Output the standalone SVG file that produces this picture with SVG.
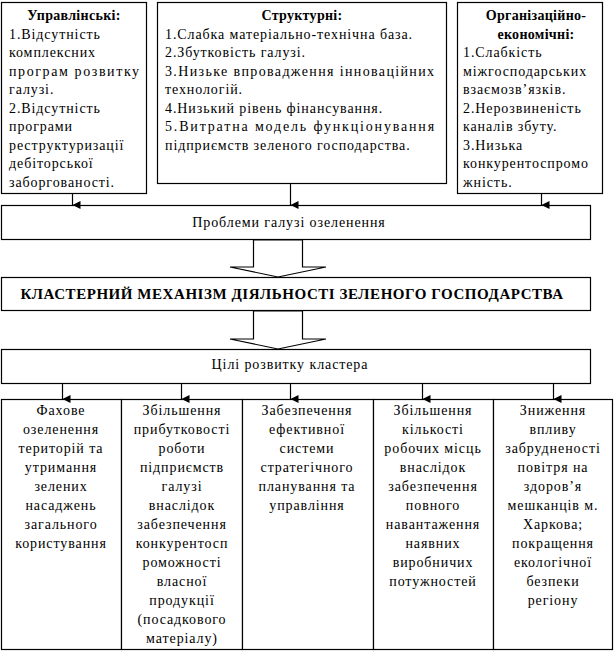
<svg xmlns="http://www.w3.org/2000/svg" width="614" height="652" viewBox="0 0 614 652" font-family="'Liberation Serif',Tinos,'Noto Serif',FreeSerif,'DejaVu Serif','Times New Roman',Times,serif" font-size="14">
<defs>
<marker id="ah" viewBox="0 0 8 8" refX="4" refY="8" markerWidth="8" markerHeight="8" markerUnits="userSpaceOnUse" orient="auto-start-reverse">
<path d="M0,0 L8,0 L4,8 z" fill="#000"/>
</marker>
<style>
text{fill:#000;letter-spacing:0.9px}
.b{font-weight:bold;letter-spacing:0.3px}
.c{text-anchor:middle}
.box{fill:#fff;stroke:#000;stroke-width:1.2}
.ln{stroke:#000;stroke-width:1.2;fill:none}
.k{font-size:15px;font-weight:bold;letter-spacing:0.55px}
</style>
</defs>
<rect width="614" height="652" fill="#fff"/>

<g id="upravlinski">
<rect class="box" x="1.5" y="2.5" width="145" height="191"/>
<text class="b c" x="74" y="20">Управлінські:</text>
<text x="9" y="38.5">1.Відсутність</text>
<text x="9" y="57">комплексних</text>
<text x="9" y="75.5" textLength="131" lengthAdjust="spacing">програм розвитку</text>
<text x="9" y="94">галузі.</text>
<text x="9" y="112.5">2.Відсутність</text>
<text x="9" y="131">програми</text>
<text x="9" y="149.5">реструктуризації</text>
<text x="9" y="168">дебіторської</text>
<text x="9" y="186.5">заборгованості.</text>
</g>

<g id="strukturni">
<rect class="box" x="157.5" y="2.5" width="289" height="181"/>
<text class="b c" x="302" y="20">Структурні:</text>
<text x="165" y="38.5">1.Слабка матеріально-технічна база.</text>
<text x="165" y="57">2.Збутковість галузі.</text>
<text x="165" y="75.5" textLength="270" lengthAdjust="spacing">3.Низьке впровадження інноваційних</text>
<text x="165" y="94">технологій.</text>
<text x="165" y="112.5">4.Низький рівень фінансування.</text>
<text x="165" y="131" textLength="270" lengthAdjust="spacing">5.Витратна модель функціонування</text>
<text x="165" y="149.5">підприємств зеленого господарства.</text>
</g>

<g id="orgekon">
<rect class="box" x="457.5" y="2.5" width="145" height="191"/>
<text class="b c" x="536" y="20">Організаційно-</text>
<text class="b c" x="536" y="38.5">економічні:</text>
<text x="463" y="57">1.Слабкість</text>
<text x="463" y="75.5">міжгосподарських</text>
<text x="463" y="94">взаємозв’язків.</text>
<text x="463" y="112.5">2.Нерозвиненість</text>
<text x="463" y="131">каналів збуту.</text>
<text x="463" y="149.5">3.Низька</text>
<text x="463" y="168">конкурентоспромо</text>
<text x="463" y="186.5">жність.</text>
</g>

<g id="problemy">
<rect class="box" x="1.5" y="205.5" width="589" height="34"/>
<text class="c" x="289" y="227">Проблеми галузі озеленення</text>
</g>

<g id="mekhanizm">
<rect class="box" x="1.5" y="277.5" width="589" height="33"/>
<text class="k c" x="292" y="299">КЛАСТЕРНИЙ МЕХАНІЗМ ДІЯЛЬНОСТІ ЗЕЛЕНОГО ГОСПОДАРСТВА</text>
</g>

<g id="tsili">
<rect class="box" x="1.5" y="349.5" width="589" height="34"/>
<text class="c" x="290" y="369">Цілі розвитку кластера</text>
</g>

<g id="goal1">
<rect class="box" x="1.5" y="399.5" width="120" height="250"/>
<text class="c" x="61" y="415">Фахове</text>
<text class="c" x="61" y="434">озеленення</text>
<text class="c" x="61" y="453">територій та</text>
<text class="c" x="61" y="472">утримання</text>
<text class="c" x="61" y="491">зелених</text>
<text class="c" x="61" y="510">насаджень</text>
<text class="c" x="61" y="529">загального</text>
<text class="c" x="61" y="548">користування</text>
</g>

<g id="goal2">
<rect class="box" x="121.5" y="399.5" width="121" height="250"/>
<text class="c" x="182" y="415">Збільшення</text>
<text class="c" x="182" y="434">прибутковості</text>
<text class="c" x="182" y="453">роботи</text>
<text class="c" x="182" y="472">підприємств</text>
<text class="c" x="182" y="491">галузі</text>
<text class="c" x="182" y="510">внаслідок</text>
<text class="c" x="182" y="529">забезпечення</text>
<text class="c" x="182" y="548">конкурентосп</text>
<text class="c" x="182" y="567">роможності</text>
<text class="c" x="182" y="586">власної</text>
<text class="c" x="182" y="605">продукції</text>
<text class="c" x="182" y="624">(посадкового</text>
<text class="c" x="182" y="643">матеріалу)</text>
</g>

<g id="goal3">
<rect class="box" x="242.5" y="399.5" width="131" height="250"/>
<text class="c" x="307" y="415">Забезпечення</text>
<text class="c" x="307" y="434">ефективної</text>
<text class="c" x="307" y="453">системи</text>
<text class="c" x="307" y="472">стратегічного</text>
<text class="c" x="307" y="491">планування та</text>
<text class="c" x="307" y="510">управління</text>
</g>

<g id="goal4">
<rect class="box" x="373.5" y="399.5" width="120" height="250"/>
<text class="c" x="433" y="415">Збільшення</text>
<text class="c" x="433" y="434">кількості</text>
<text class="c" x="433" y="453">робочих місць</text>
<text class="c" x="433" y="472">внаслідок</text>
<text class="c" x="433" y="491">забезпечення</text>
<text class="c" x="433" y="510">повного</text>
<text class="c" x="433" y="529">навантаження</text>
<text class="c" x="433" y="548">наявних</text>
<text class="c" x="433" y="567">виробничих</text>
<text class="c" x="433" y="586">потужностей</text>
</g>

<g id="goal5">
<rect class="box" x="493.5" y="399.5" width="119" height="250"/>
<text class="c" x="553" y="415">Зниження</text>
<text class="c" x="553" y="434">впливу</text>
<text class="c" x="553" y="453">забрудненості</text>
<text class="c" x="553" y="472">повітря на</text>
<text class="c" x="553" y="491">здоров’я</text>
<text class="c" x="553" y="510">мешканців м.</text>
<text class="c" x="553" y="529">Харкова;</text>
<text class="c" x="553" y="548">покращення</text>
<text class="c" x="553" y="567">екологічної</text>
<text class="c" x="553" y="586">безпеки</text>
<text class="c" x="553" y="605">регіону</text>
</g>

<g id="connectors">
<line class="ln" x1="72.5" y1="194" x2="72.5" y2="205" marker-end="url(#ah)"/>
<line class="ln" x1="290.5" y1="184" x2="290.5" y2="205" marker-end="url(#ah)"/>
<line class="ln" x1="541.5" y1="194" x2="541.5" y2="205" marker-end="url(#ah)"/>
<polygon class="box" points="253.5,240 302.5,240 302.5,267 326,267 278,277 230,267 253.5,267"/>
<polygon class="box" points="253.5,311 302.5,311 302.5,339 326,339 278,349 230,339 253.5,339"/>
<line class="ln" x1="62.5" y1="384" x2="62.5" y2="399" marker-end="url(#ah)"/>
<line class="ln" x1="181.5" y1="384" x2="181.5" y2="399" marker-end="url(#ah)"/>
<line class="ln" x1="290.5" y1="384" x2="290.5" y2="399" marker-end="url(#ah)"/>
<line class="ln" x1="422.5" y1="384" x2="422.5" y2="399" marker-end="url(#ah)"/>
<line class="ln" x1="553.5" y1="384" x2="553.5" y2="399" marker-end="url(#ah)"/>
</g>
</svg>
